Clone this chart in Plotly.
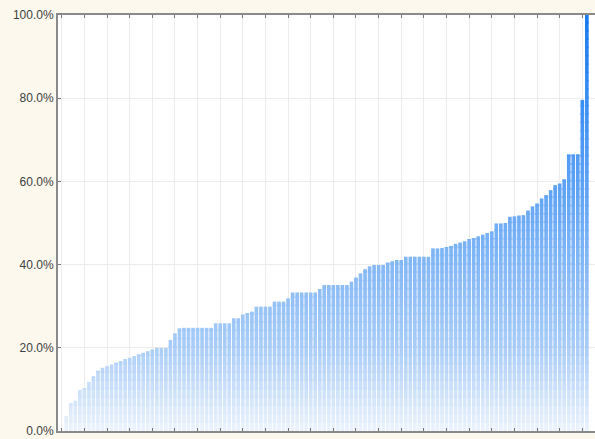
import plotly.graph_objects as go
from plotly.colors import sample_colorscale

# ---- data (sorted shares, percent) ----
bar_index = list(range(117))
values = [
    0.0, 3.6, 6.7, 7.3, 9.9, 10.2, 11.8, 13.2, 14.5, 15.2,
    15.6, 16.0, 16.4, 16.8, 17.3, 17.6, 18.0, 18.4, 18.8, 19.2,
    19.6, 20.0, 20.0, 20.0, 21.9, 23.5, 24.7, 24.8, 24.8, 24.8,
    24.8, 24.8, 24.8, 24.8, 25.9, 25.9, 25.9, 25.9, 27.1, 27.1,
    28.0, 28.3, 28.7, 29.9, 29.9, 29.9, 29.9, 31.1, 31.1, 31.1,
    31.9, 33.3, 33.3, 33.3, 33.3, 33.3, 33.3, 34.1, 35.1, 35.1,
    35.1, 35.1, 35.1, 35.1, 35.9, 36.9, 37.9, 38.9, 39.6, 39.9,
    39.9, 39.9, 40.5, 40.8, 41.1, 41.1, 41.9, 41.9, 41.9, 41.9,
    41.9, 41.9, 43.9, 43.9, 44.0, 44.1, 44.5, 45.0, 45.3, 45.6,
    46.1, 46.4, 46.8, 47.2, 47.6, 48.0, 49.9, 49.9, 50.0, 51.5,
    51.6, 51.8, 51.9, 53.0, 54.0, 54.7, 55.9, 56.7, 57.9, 59.1,
    59.5, 60.5, 66.5, 66.5, 66.5, 79.6, 100.0,
]
y_tickvals = [0, 20, 40, 60, 80, 100]
y_ticktext = ["0.0%", "20.0%", "40.0%", "60.0%", "80.0%", "100.0%"]
x_tickvals = list(range(0, 116, 5))

# vertical gradient (absolute in y) used for bar fill
gradient = [
    [0.0, "rgb(236,243,253)"],
    [0.2, "rgb(170,205,247)"],
    [0.4, "rgb(132,184,245)"],
    [0.6, "rgb(92,161,244)"],
    [0.8, "rgb(58,142,243)"],
    [1.0, "rgb(22,122,240)"],
]

fig = go.Figure()
n_bands = 50
band = 100.0 / n_bands
for k in range(n_bands):
    lo = k * band
    hi = (k + 1) * band + 0.4
    heights = [max(0.0, min(v, hi) - lo) if v > lo else 0.0 for v in values]
    col = sample_colorscale(gradient, [(lo + band / 2) / 100.0])[0]
    fig.add_trace(go.Bar(
        x=bar_index, y=heights, base=[lo] * len(values),
        marker=dict(color=col, line=dict(width=0)),
        hoverinfo="skip", showlegend=False,
    ))

fig.update_layout(
    width=595, height=439,
    margin=dict(l=58, r=0, t=15, b=8),
    paper_bgcolor="#fcf8ee",
    plot_bgcolor="#ffffff",
    barmode="overlay",
    bargap=0.2,
    font=dict(family="Liberation Sans, Arial, sans-serif", size=12, color="#404040"),
)
fig.update_xaxes(
    range=[-0.83, 117.8],
    tickvals=x_tickvals, showticklabels=False,
    ticks="inside", ticklen=3, tickcolor="#777777",
    showgrid=True, gridcolor="#ececec", gridwidth=1,
    showline=True, linecolor="#8a8a8a", linewidth=2, mirror="ticks",
    zeroline=False,
)
fig.update_yaxes(
    range=[0, 100],
    tickvals=y_tickvals, ticktext=y_ticktext,
    ticks="inside", ticklen=3, tickcolor="#777777",
    showgrid=True, gridcolor="#ececec", gridwidth=1,
    showline=True, linecolor="#8a8a8a", linewidth=2,
    zeroline=False,
)

fig.write_html(
    "out.html",
    config={"displayModeBar": False},
    post_script="document.body.style.margin='0';document.body.style.overflow='hidden';",
)
